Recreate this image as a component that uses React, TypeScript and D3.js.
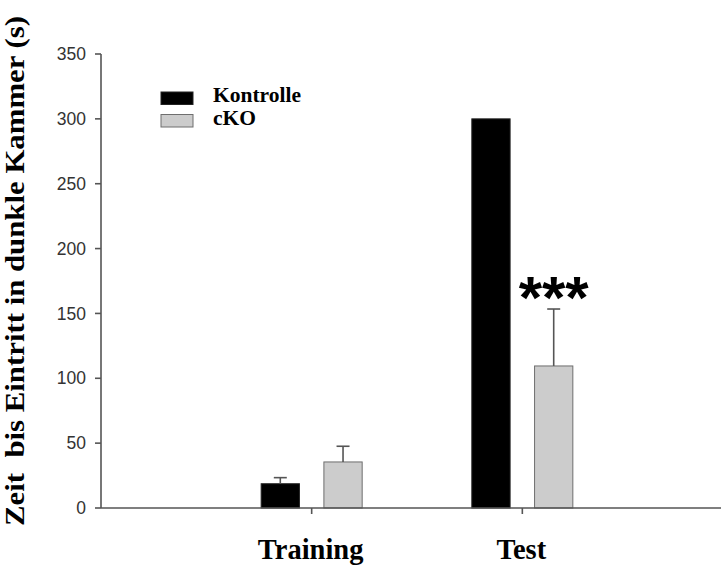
import React from "react";
import * as d3 from "d3";

// Latency to enter the dark compartment (passive avoidance), mean + SEM
const groups = ["Training", "Test"];
const series = ["Kontrolle", "cKO"];
const kontrolleMean = [18.7, 300];
const kontrolleSem = [4.7, 0];
const ckoMean = [35.5, 109.5];
const ckoSem = [12.1, 43.9];
const yTicks = [0, 50, 100, 150, 200, 250, 300, 350];
const significance = ["", "***"];

const W = 721;
const H = 566;
const axisLeft = 101;
const axisRight = 733;
const yTop = 54;
const yBottom = 508;

const fills: Record<string, string> = { Kontrolle: "#000000", cKO: "#cccccc" };
const strokes: Record<string, string> = { Kontrolle: "#222222", cKO: "#6e6e6e" };

export default function App() {
  const y = d3.scaleLinear().domain([0, 350]).range([yBottom, yTop]);
  const x = d3.scalePoint<string>().domain(groups).range([axisLeft, axisRight]).padding(1);
  const inner = d3.scaleBand<string>().domain(series).range([-50.5, 50.5]).paddingInner(0.39);
  const bw = inner.bandwidth();

  const rows = series.map((s) => ({
    key: s,
    values: groups.map((g, i) => ({
      group: g,
      mean: s === "Kontrolle" ? kontrolleMean[i] : ckoMean[i],
      sem: s === "Kontrolle" ? kontrolleSem[i] : ckoSem[i],
    })),
  }));

  const axisColor = "#555555";
  const serif = "'Liberation Serif', 'Times New Roman', serif";
  const sans = "'Liberation Sans', Arial, sans-serif";

  return (
    <svg
      width={W}
      height={H}
      style={{ position: "absolute", left: 0, top: 0, background: "#fff" }}
    >
      {/* bars with upward error bars */}
      {rows.map((r) =>
        r.values.map((v, i) => {
          const cx = (x(v.group) as number) + (inner(r.key) as number) + bw / 2;
          const x0 = cx - bw / 2;
          const top = y(v.mean);
          const errTop = y(v.mean + v.sem);
          return (
            <g key={r.key + i}>
              <rect
                x={x0}
                y={top}
                width={bw}
                height={y(0) - top}
                fill={fills[r.key]}
                stroke={strokes[r.key]}
                strokeWidth={1}
              />
              {v.sem > 0 && (
                <g stroke={axisColor} strokeWidth={1.6}>
                  <line x1={cx} x2={cx} y1={top} y2={errTop} />
                  <line x1={cx - 6.5} x2={cx + 6.5} y1={errTop} y2={errTop} />
                </g>
              )}
            </g>
          );
        })
      )}

      {/* significance markers above cKO error bars */}
      {groups.map((g, i) =>
        significance[i] ? (
          <text
            key={"sig" + g}
            x={(x(g) as number) + (inner("cKO") as number) + bw / 2}
            y={y(ckoMean[i] + ckoSem[i]) + 9}
            textAnchor="middle"
            fontFamily={sans}
            fontWeight="bold"
            fontSize={60}
            fill="#000"
          >
            {significance[i]}
          </text>
        ) : null
      )}

      {/* y axis */}
      <line x1={axisLeft} x2={axisLeft} y1={y(350)} y2={y(0)} stroke={axisColor} strokeWidth={1.6} />
      {yTicks.map((t) => (
        <g key={"yt" + t}>
          <line x1={axisLeft - 6} x2={axisLeft} y1={y(t)} y2={y(t)} stroke={axisColor} strokeWidth={1.6} />
          <text
            x={axisLeft - 15}
            y={y(t)}
            dy="0.35em"
            textAnchor="end"
            fontFamily={sans}
            fontSize={17.5}
            fill="#333"
          >
            {t}
          </text>
        </g>
      ))}

      {/* x axis */}
      <line x1={axisLeft} x2={W} y1={y(0)} y2={y(0)} stroke={axisColor} strokeWidth={1.6} />
      {groups.map((g) => (
        <g key={"xt" + g}>
          <line
            x1={x(g) as number}
            x2={x(g) as number}
            y1={y(0)}
            y2={y(0) + 6}
            stroke={axisColor}
            strokeWidth={1.6}
          />
          <text
            x={(x(g) as number) - 1}
            y={559}
            textAnchor="middle"
            fontFamily={serif}
            fontWeight="bold"
            fontSize={28.5}
            fill="#000"
          >
            {g}
          </text>
        </g>
      ))}

      {/* y axis title */}
      <text
        transform={`translate(24, 271) rotate(-90)`}
        textAnchor="middle"
        fontFamily={serif}
        fontWeight="bold"
        fontSize={28}
        textLength={510}
        lengthAdjust="spacingAndGlyphs"
        fill="#000"
        style={{ whiteSpace: "pre" }}
      >
        {"Zeit  bis Eintritt in dunkle Kammer (s)"}
      </text>

      {/* legend */}
      {series.map((s, i) => (
        <g key={"lg" + s} transform={`translate(161, ${92 + i * 22.5})`}>
          <rect x={0} y={0} width={32} height={12.5} fill={fills[s]} stroke={strokes[s]} strokeWidth={1} />
          <text x={52} y={10} fontFamily={serif} fontWeight="bold" fontSize={21.5} fill="#000">
            {s}
          </text>
        </g>
      ))}
    </svg>
  );
}
